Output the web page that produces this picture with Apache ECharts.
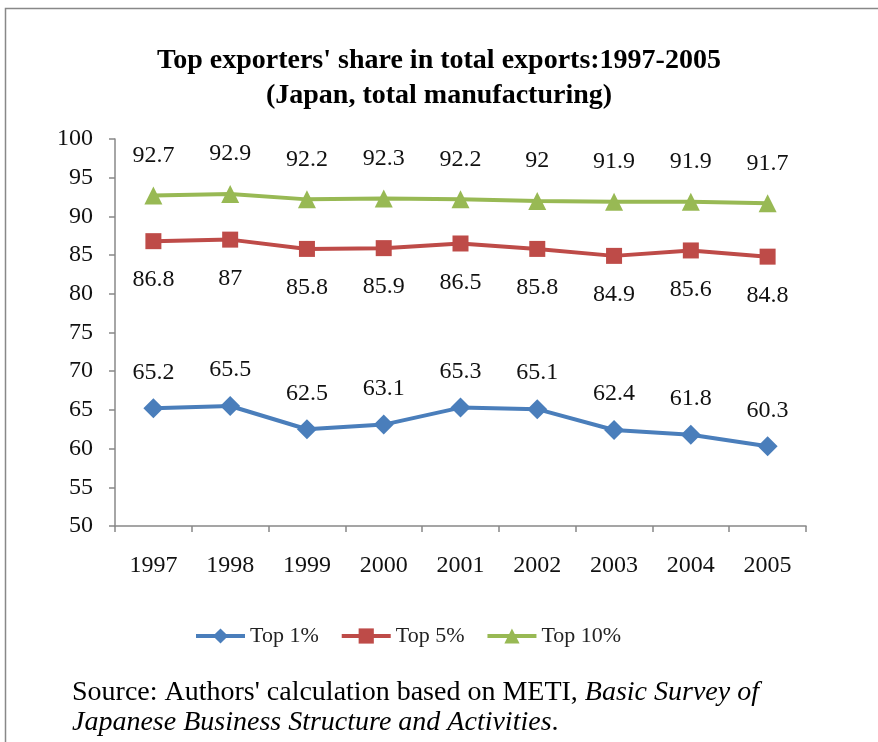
<!DOCTYPE html>
<html><head><meta charset="utf-8">
<script src="https://cdn.jsdelivr.net/npm/echarts@6/dist/echarts.min.js"></script>
<style>html,body{margin:0;padding:0;background:#fff}#c{width:878px;height:742px}</style>
</head><body><div id="c"></div>
<script>
const years = ['1997','1998','1999','2000','2001','2002','2003','2004','2005'];
const top1 = [65.2, 65.5, 62.5, 63.1, 65.3, 65.1, 62.4, 61.8, 60.3];
const top5 = [86.8, 87, 85.8, 85.9, 86.5, 85.8, 84.9, 85.6, 84.8];
const top10 = [92.7, 92.9, 92.2, 92.3, 92.2, 92, 91.9, 91.9, 91.7];
const seriesNames = ['Top 1%', 'Top 5%', 'Top 10%'];
const yTicks = {min: 50, max: 100, interval: 5};

const numFont = 'Liberation Serif';
const chart = echarts.init(document.getElementById('c'), null, {renderer: 'canvas'});
function mk(name, data, color, symbol, size, pos, dist) {
  return {
    name, type: 'line', data, symbol, symbolSize: size,
    lineStyle: {color, width: 4}, itemStyle: {color},
    label: {show: true, position: pos, distance: dist, color: '#111', fontFamily: numFont, fontSize: 24},
    emphasis: {disabled: true}, z: 3
  };
}
chart.setOption({
  animation: false,
  title: {
    text: "Top exporters' share in total exports:1997-2005\n(Japan, total manufacturing)",
    left: 'center', top: 38,
    textStyle: {fontFamily: 'Liberation Serif', fontWeight: 'bold', fontSize: 28, lineHeight: 35, color: '#000'}
  },
  graphic: [
    {type: 'rect', shape: {x: 5.5, y: 8.5, width: 1000, height: 1000}, style: {fill: 'none', stroke: '#888', lineWidth: 1.5}, silent: true, z: -10},
    {type: 'text', left: 72, top: 679, style: {
      text: "{n|Source: Authors' calculation based on METI, }{i|Basic Survey of}\n{i|Japanese Business Structure and Activities}{n|.}",
      rich: {
        n: {fontFamily: 'Liberation Serif', fontSize: 28, fill: '#000', lineHeight: 30},
        i: {fontFamily: 'Liberation Serif', fontStyle: 'italic', fontSize: 28, fill: '#000', lineHeight: 30}
      }
    }}
  ],
  legend: {
    data: seriesNames, top: 620, left: 189, itemWidth: 49, itemHeight: 19, itemGap: 21,
    lineStyle: {width: 4},
    textStyle: {fontFamily: numFont, fontSize: 22, color: '#222', padding: [0, 0, 0, 0]},
    selectedMode: false
  },
  grid: {left: 115, right: 72, top: 139, bottom: 216},
  xAxis: {
    type: 'category', data: years, boundaryGap: true,
    axisLine: {lineStyle: {color: '#888', width: 1.5}},
    axisTick: {show: true, length: 6, lineStyle: {color: '#888', width: 1.5}},
    axisLabel: {color: '#111', fontFamily: numFont, fontSize: 24, margin: 28}
  },
  yAxis: {
    type: 'value', min: yTicks.min, max: yTicks.max, interval: yTicks.interval,
    axisLine: {show: true, lineStyle: {color: '#888', width: 1.5}},
    axisTick: {show: true, length: 6, lineStyle: {color: '#888', width: 1.5}},
    splitLine: {show: false},
    axisLabel: {color: '#111', fontFamily: numFont, fontSize: 24, margin: 22}
  },
  series: [
    mk(seriesNames[0], top1, '#4a7ebb', 'diamond', 20, 'top', 14),
    mk(seriesNames[1], top5, '#be4b48', 'rect', 16, 'bottom', 19),
    mk(seriesNames[2], top10, '#98b954', 'triangle', 18, 'top', 19)
  ]
});
</script></body></html>
